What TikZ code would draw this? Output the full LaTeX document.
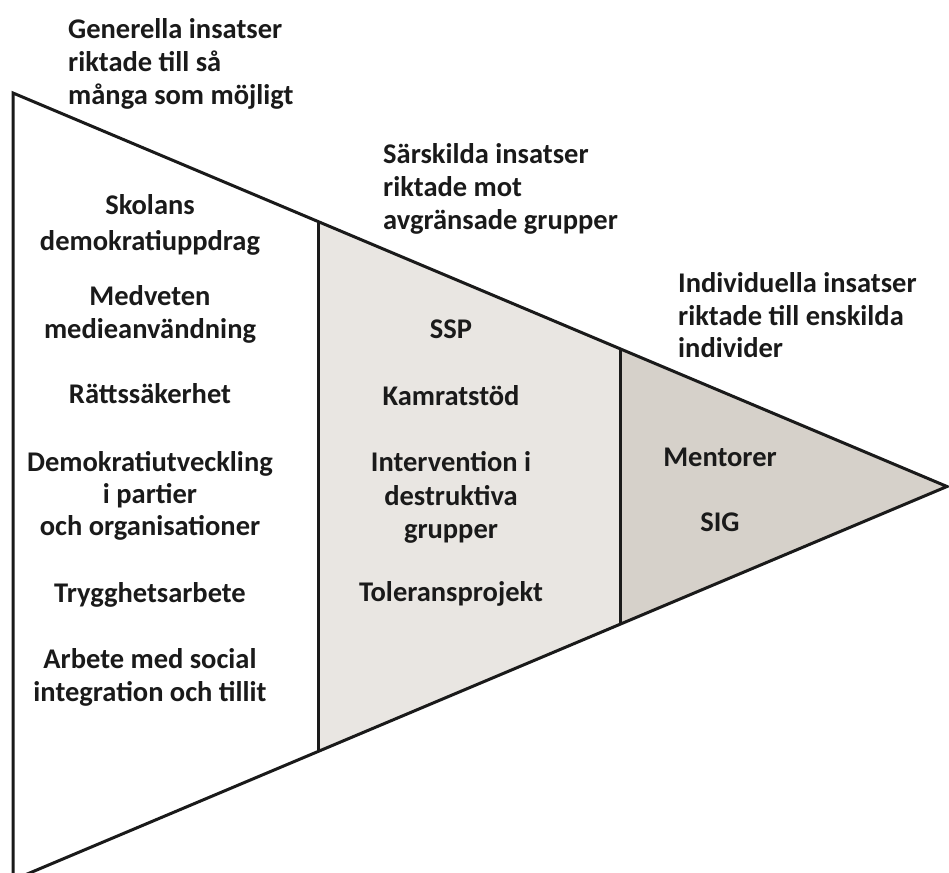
\documentclass[tikz,border=0pt]{standalone}
\usepackage{fontspec}
\setmainfont{Carlito}
\usetikzlibrary{calc}
\definecolor{midfill}{HTML}{E9E6E2}
\definecolor{rightfill}{HTML}{D6D1CA}
\definecolor{ink}{HTML}{1A1A1A}
\begin{document}
\begin{tikzpicture}[x=1pt,y=-1pt,
  ln/.style={font=\fontsize{28.5}{33}\selectfont\bfseries, inner sep=0pt, anchor=base, text=ink},
  hd/.style={ln, anchor=base west},
  edge/.style={line width=3pt, draw=ink, line join=miter}]
\useasboundingbox (0,0) rectangle (949,872);
\clip (0,0) rectangle (949,872);
% triangle corners
\coordinate (T) at (13,93);
\coordinate (B) at (13,880);
\coordinate (P) at (947,486.5);
\coordinate (T1) at ($(T)!0.3266!(P)$);
\coordinate (B1) at ($(B)!0.3266!(P)$);
\coordinate (T2) at ($(T)!0.6499!(P)$);
\coordinate (B2) at ($(B)!0.6499!(P)$);
% fills
\fill[midfill] (T1) -- (T2) -- (B2) -- (B1) -- cycle;
\fill[rightfill] (T2) -- (P) -- (B2) -- cycle;
% outline and dividers
\draw[edge] (T) -- (P) -- (B) -- cycle;
\draw[edge] (T1) -- (B1);
\draw[edge] (T2) -- (B2);
% headings
\node[hd] (g1) at (68,39) {Generella insatser};
\node[hd] (g2) at (68,72) {riktade till så};
\node[hd] (g3) at (68,104) {många som möjligt};
\node[hd] (s1) at (383,163) {Särskilda insatser};
\node[hd] (s2) at (383,196) {riktade mot};
\node[hd] (s3) at (383,229) {avgränsade grupper};
\node[hd] (i1) at (678,292) {Individuella insatser};
\node[hd] (i2) at (678,325) {riktade till enskilda};
\node[hd] (i3) at (678,357) {individer};
% left column
\node[ln] (a1) at (150,214) {Skolans};
\node[ln] (a2) at (150,250) {demokratiuppdrag};
\node[ln] (a3) at (150,305) {Medveten};
\node[ln] (a4) at (150,338) {medieanvändning};
\node[ln] (a5) at (150,403) {Rättssäkerhet};
\node[ln] (a6) at (150,471) {Demokratiutveckling};
\node[ln] (a7) at (150,503) {i partier};
\node[ln] (a8) at (150,535) {och organisationer};
\node[ln] (a9) at (150,602) {Trygghetsarbete};
\node[ln] (a10) at (150,668) {Arbete med social};
\node[ln] (a11) at (150,701) {integration och tillit};
% middle column
\node[ln] (m1) at (451,338) {SSP};
\node[ln] (m2) at (451,405) {Kamratstöd};
\node[ln] (m3) at (451,471) {Intervention i};
\node[ln] (m4) at (451,505) {destruktiva};
\node[ln] (m5) at (451,538) {grupper};
\node[ln] (m6) at (451,601) {Toleransprojekt};
% right column
\node[ln] (r1) at (720,466) {Mentorer};
\node[ln] (r2) at (720,531) {SIG};
\end{tikzpicture}
\end{document}
